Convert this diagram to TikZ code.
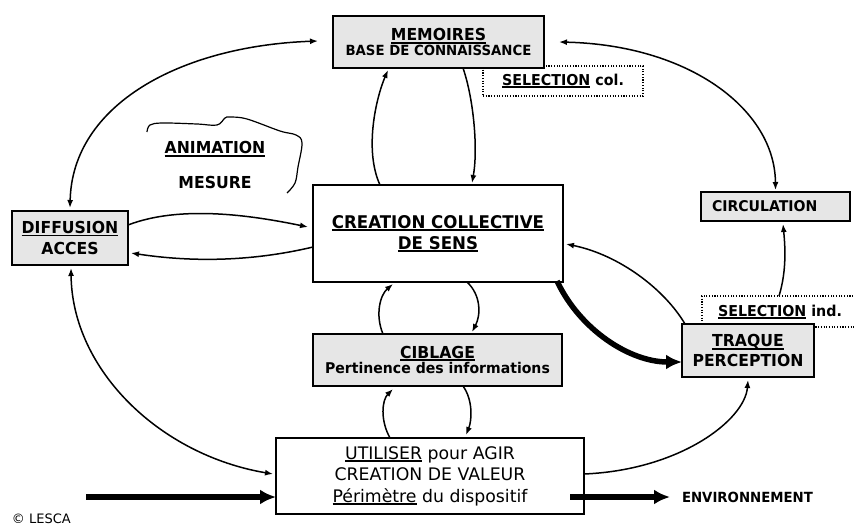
\documentclass[tikz,border=0pt]{standalone}
\usepackage{fontspec}
\setmainfont{DejaVu Sans}[BoldFeatures={FakeStretch=0.95}]
\usetikzlibrary{arrows.meta,calc}
\definecolor{boxgray}{RGB}{230,230,230}
\newcommand\ulx[1]{\leavevmode\setbox0=\hbox{#1}\rlap{\rule[-0.17em]{\wd0}{0.11em}}\box0\relax}
\newcommand\ulr[1]{\leavevmode\setbox0=\hbox{#1}\rlap{\rule[-0.15em]{\wd0}{0.08em}}\box0\relax}
\newcommand\fs[2]{\fontsize{#1}{#2}\selectfont}
\begin{document}
\begin{tikzpicture}[x=1pt,y=-1pt,
  every node/.style={inner sep=0pt, outer sep=0pt},
  gbox/.style={draw=black, line width=1.8pt, fill=boxgray, align=center},
  wbox/.style={draw=black, line width=1.8pt, fill=white, align=center},
  dotbox/.style={draw=black, line width=1.1pt, dash pattern=on 1.1pt off 1.6pt, align=center},
  conn/.style={line width=1.5pt, -{Latex[length=8pt,width=6pt]}},
  dconn/.style={line width=1.5pt, {Latex[length=8pt,width=6pt]}-{Latex[length=8pt,width=6pt]}},
  thick arrow/.style={line width=5.5pt, -{Latex[length=16pt,width=15pt]}},
  bf/.style={font=\bfseries\fs{#1}{21}},
]
\useasboundingbox (0,0) rectangle (854,525);
\clip (0,0) rectangle (854,525);

% dotted selection boxes
\node[dotbox, minimum width=160, minimum height=30, bf=15] (selcol) at (563,81) {\ulx{SELECTION} col.};
\node[dotbox, minimum width=160, minimum height=31] (selind) at (782,311.5) {};
\node[bf=15, anchor=center] (selindt) at (780,312) {\ulx{SELECTION} ind.};

% boxes
\node[gbox, minimum width=211, minimum height=52, font=\bfseries] (mem) at (438.5,42)
  {{\fs{16.5}{21}\ulx{MEMOIRES}}\\[0pt]{\fs{14}{21}BASE DE CONNAISSANCE}};
\node[gbox, minimum width=116, minimum height=54, bf=16.5] (dif) at (70,238)
  {\ulx{DIFFUSION}\\ACCES};
\node[wbox, minimum width=250, minimum height=97, bf=17.5] (cre) at (438,233.5)
  {\ulx{CREATION COLLECTIVE}\\\ulx{DE SENS}};
\node[gbox, minimum width=149, minimum height=29, text width=127, align=left, bf=14.8] (cir) at (775.5,206.5)
  {CIRCULATION};
\node[gbox, minimum width=132, minimum height=53, font=\bfseries\fs{16.5}{19.5}] (traq) at (748,350.5)
  {\ulx{TRAQUE}\\PERCEPTION};
\node[gbox, minimum width=249, minimum height=52, font=\bfseries] (cib) at (437.5,360)
  {{\fs{16.5}{21}\ulx{CIBLAGE}}\\{\fs{14.8}{21}Pertinence des informations}};
\node[wbox, minimum width=308, minimum height=76, font=\fs{17.3}{21.5}] (uti) at (430,476)
  {\ulr{UTILISER} pour AGIR\\CREATION DE VALEUR\\\ulr{Périmètre} du dispositif};

% animation / mesure
\node[bf=16.5] (anim) at (215,149) {\ulx{ANIMATION}};
\node[bf=16.5] (mes) at (215,182) {MESURE};
\draw[line width=1.2pt] plot[smooth, tension=0.6] coordinates {(147,132) (150,125) (163,123) (197,124) (217,125) (225,118) (230,117) (247,119) (280,131) (296,135) (302,143) (298,167) (295,183) (287,193)};

% connectors
\draw[dconn] ($(mem.west)+(-15,-1)$) .. controls (180,46) and (72,105) .. ($(dif.north)+(0,-3)$);
\draw[dconn] ($(mem.east)+(15,0)$) .. controls (690,45) and (775,110) .. ($(cir.north)+(0,-2)$);
\draw[conn] ($(cre.north)+(-58,0)$) .. controls (364,150) and (376,98) .. ($(mem.south)+(-50.5,2)$);
\draw[conn] ($(mem.south)+(24.5,0)$) .. controls (474,100) and (478,150) .. ($(cre.north)+(34,-2)$);
\draw[conn] ($(dif.east)+(0,-13)$) .. controls (180,205) and (250,215) .. ($(cre.west)+(-5,-6.5)$);
\draw[conn] ($(cre.west)+(0,13.5)$) .. controls (250,262) and (190,262) .. ($(dif.east)+(3,15)$);
\draw[conn] ($(cre.south)+(29,0)$) .. controls (481,295) and (481,315) .. ($(cib.north)+(34.5,-2)$);
\draw[conn] ($(cib.north)+(-54.5,0)$) .. controls (375,315) and (380,295) .. ($(cre.south)+(-45,2)$);
\draw[thick arrow] ($(cre.south east)+(-6,-1)$) .. controls (580,330) and (630,362) .. ($(traq.west)+(0,11.5)$);
\draw[conn] ($(traq.north west)+(3,0)$) .. controls (665,290) and (620,255) .. ($(cre.east)+(3,10.5)$);
\draw[conn] ($(selind.north west)+(77,0)$) .. controls (787,270) and (785,245) .. ($(cir.south)+(7.5,3)$);
\draw[dconn] ($(dif.south)+(1,3)$) .. controls (72,370) and (160,455) .. ($(uti.west)+(-3,-2)$);
\draw[conn] ($(uti.north)+(-40,0)$) .. controls (380,420) and (382,400) .. ($(cib.south)+(-44.5,3)$);
\draw[conn] ($(cib.south)+(25.5,0)$) .. controls (473,400) and (472,420) .. ($(uti.north)+(36,-3)$);
\draw[conn] ($(uti.east)+(0,-2)$) .. controls (680,470) and (745,420) .. ($(traq.south)+(0,3)$);

% input / output
\coordinate (inp) at (86,497);
\coordinate (outp) at (670,497);
\draw[thick arrow] (inp) -- ($(uti.west)+(0,21)$);
\draw[thick arrow] ($(uti.east)+(-14,21)$) -- (outp);
\node[anchor=west, bf=14] (env) at (682,497) {ENVIRONNEMENT};
\node[anchor=base west, font=\fs{13}{16}] (copy) at (12,523) {© LESCA};
\end{tikzpicture}
\end{document}
